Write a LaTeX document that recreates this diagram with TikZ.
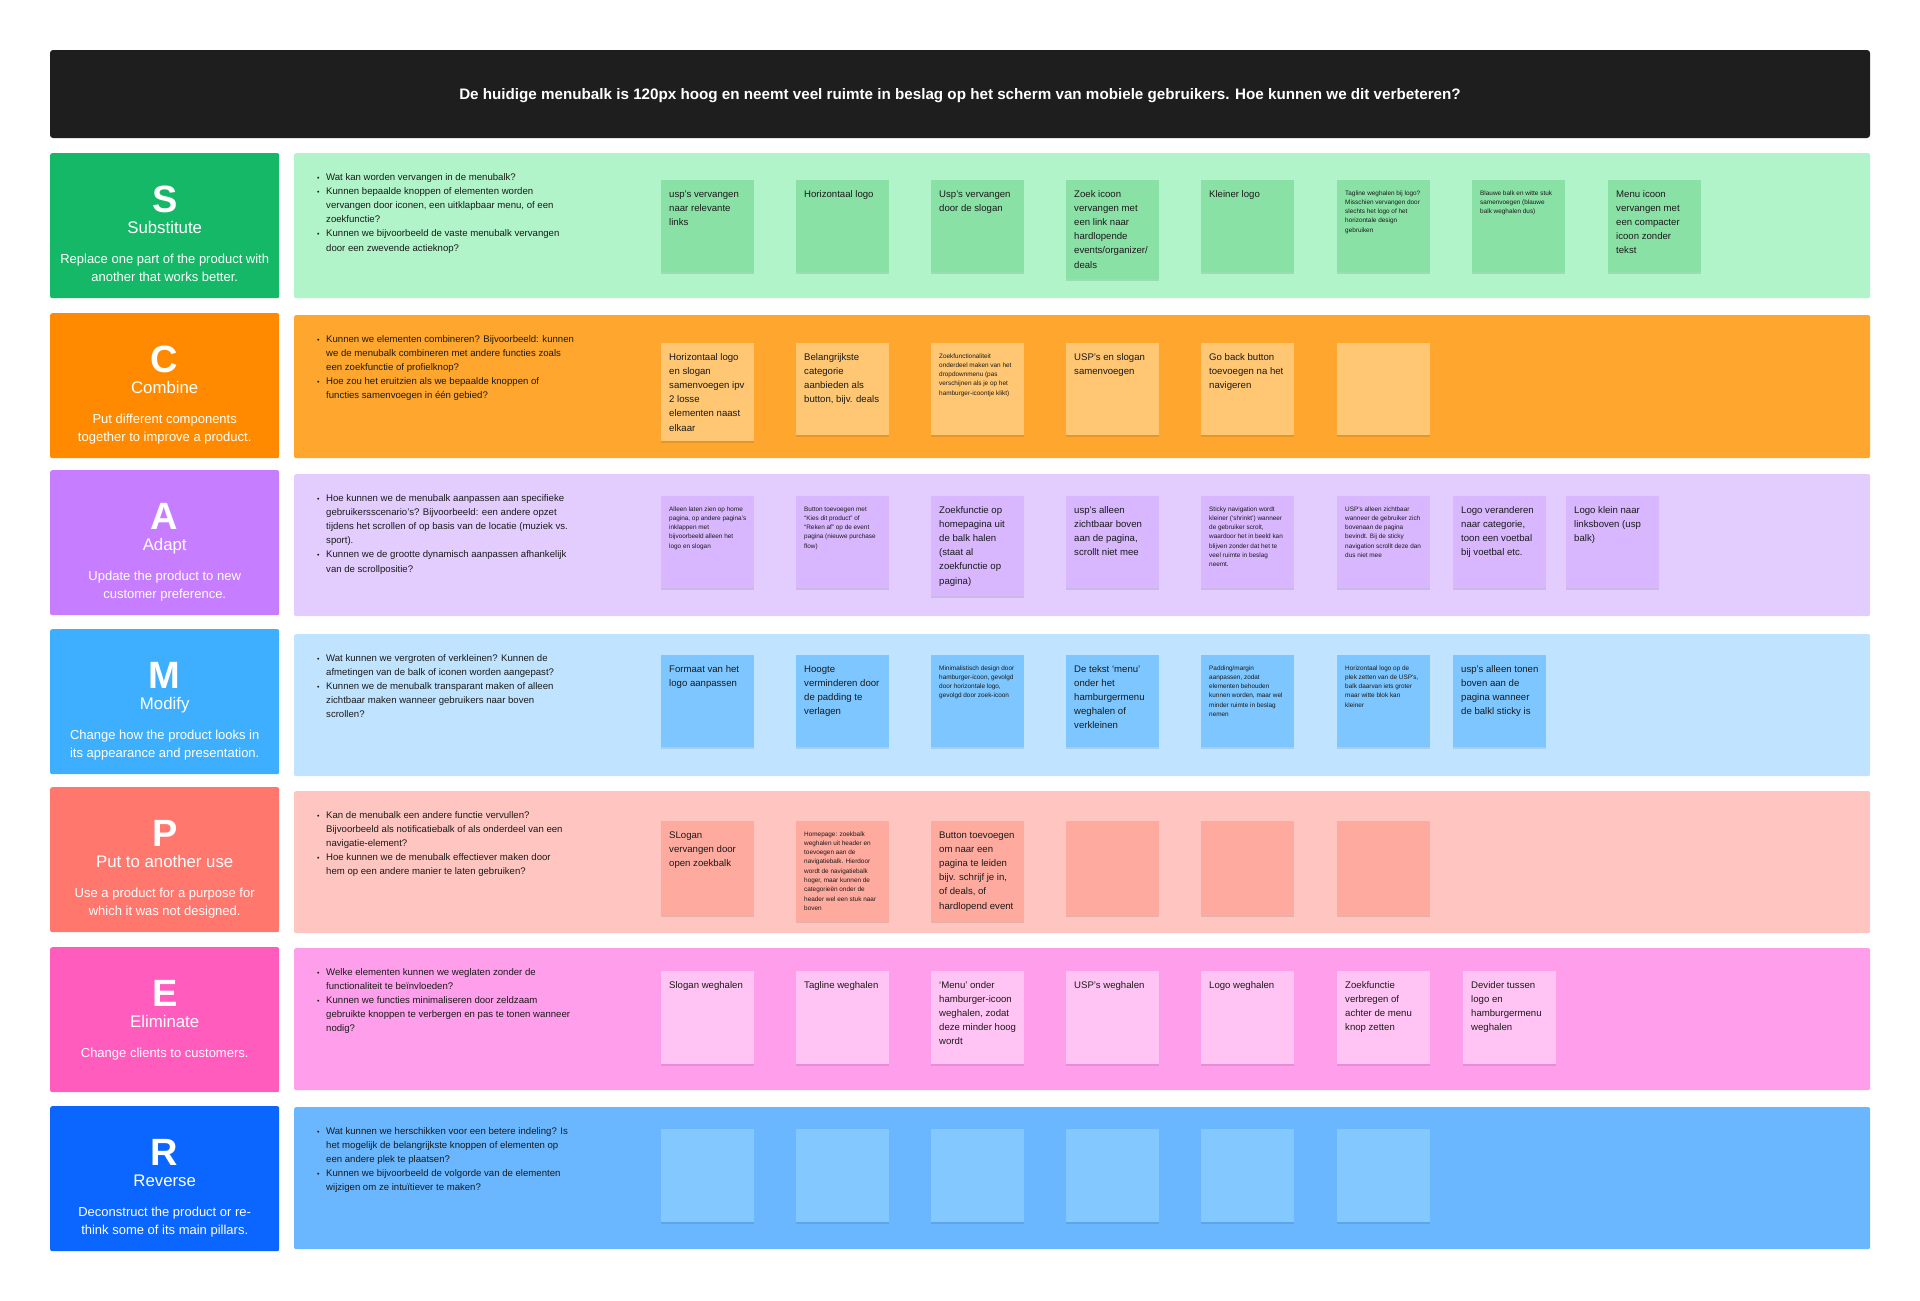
\documentclass[tikz,border=0pt]{standalone}
\usepackage{fontspec}
\setmainfont{Liberation Sans}
\usetikzlibrary{shadows}
\definecolor{hdr}{HTML}{1E1E1E}
\definecolor{ink}{HTML}{1A1A1A}
\definecolor{slab}{HTML}{14B866}\definecolor{span}{HTML}{B1F4CA}\definecolor{snote}{HTML}{8AE1A6}
\definecolor{clab}{HTML}{FF8A00}\definecolor{cpan}{HTML}{FFA62E}\definecolor{cnote}{HTML}{FFC674}
\definecolor{alab}{HTML}{C77DFF}\definecolor{apan}{HTML}{E3CDFF}\definecolor{anote}{HTML}{D8B7FF}
\definecolor{mlab}{HTML}{3EAFFF}\definecolor{mpan}{HTML}{C0E4FF}\definecolor{mnote}{HTML}{7DC6FF}
\definecolor{plab}{HTML}{FF776D}\definecolor{ppan}{HTML}{FFC6C1}\definecolor{pnote}{HTML}{FFAA9E}
\definecolor{elab}{HTML}{FF5CBD}\definecolor{epan}{HTML}{FF9FEC}\definecolor{enote}{HTML}{FFC4F4}
\definecolor{rlab}{HTML}{0A66FF}\definecolor{rpan}{HTML}{6AB7FF}\definecolor{rnote}{HTML}{83C9FF}
\newcommand\bignote{\fontsize{9.6}{14.2}\selectfont}
\newcommand\smallnote{\fontsize{6.4}{9.3}\selectfont}
\newcommand\bq[1]{\hangindent=9pt\hangafter=1\noindent\makebox[9pt][l]{\fontsize{7}{7}\selectfont\textbullet}{\def\\{\newline}#1}\par}
% sticky note: name, x, y, height, colour, text (big font)
\newcommand\stk[6]{%
  \node[stickbox, fill=#5, minimum height=#4pt, anchor=north west] (#1) at (#2,#3) {};
  \node[notetext, anchor=base west] (#1t) at ([xshift=8pt,yshift=-17pt]#1.north west) {\parbox[t]{120pt}{\raggedright\bignote #6}};}
% sticky note with small text
\newcommand\stks[6]{%
  \node[stickbox, fill=#5, minimum height=#4pt, anchor=north west] (#1) at (#2,#3) {};
  \node[notetext, anchor=base west] (#1t) at ([xshift=8pt,yshift=-15pt]#1.north west) {\parbox[t]{120pt}{\raggedright\smallnote #6}};}
% label: name, top, colour, letter, title, description
\newcommand\lab[6]{%
  \node[labbox, fill=#3, anchor=north west] (#1) at (50,#2) {};
  \node[labletter, anchor=base] (#1l) at ([yshift=-59pt]#1.north) {#4};
  \node[labtitle, anchor=base] (#1n) at ([yshift=-80pt]#1.north) {#5};
  \node[labdesc, anchor=base] (#1d) at ([yshift=-110pt]#1.north) {\parbox[t]{225pt}{\centering #6}};}
% panel: name, top, colour, height
\newcommand\pan[4]{\node[panelbox, fill=#3, minimum height=#4pt, anchor=north west] (#1) at (294,#2) {};}
% questions: name, baseline y, text
\newcommand\qs[3]{\node[qtext, anchor=base west] (#1) at (317,#2) {\parbox[t]{330pt}{\raggedright\fontsize{9.6}{14.2}\selectfont #3}};}
\begin{document}
\begin{tikzpicture}[x=1pt,y=-1pt,
  stickbox/.style={draw=none, minimum width=93pt, inner sep=0pt,
     drop shadow={shadow xshift=0pt, shadow yshift=-1.5pt, opacity=0.10, fill=black}},
  notetext/.style={inner sep=0pt, text=ink},
  labbox/.style={minimum width=229pt, minimum height=145pt, inner sep=0pt, rounded corners=2pt},
  labletter/.style={inner sep=0pt, text=white, font=\fontsize{38}{38}\selectfont\bfseries},
  labtitle/.style={inner sep=0pt, text=white, font=\fontsize{16.8}{18}\selectfont},
  labdesc/.style={inner sep=0pt, text=white, font=\fontsize{13}{18.4}\selectfont},
  panelbox/.style={minimum width=1576pt, inner sep=0pt, rounded corners=1.5pt},
  qtext/.style={inner sep=0pt, text=ink},
  header/.style={fill=hdr, rounded corners=3pt, minimum width=1820pt, minimum height=88pt, inner sep=0pt},
  headtext/.style={inner sep=0pt, text=white, font=\fontsize{15.2}{17}\selectfont\bfseries}]
\useasboundingbox (0,0) rectangle (1920,1301);
\fill[white] (0,0) rectangle (1920,1301);

\node[header] (hbox) at (960,94) {};
\node[headtext, anchor=base] (title) at ([yshift=-5.5pt]hbox.center) {De huidige menubalk is 120px hoog en neemt veel ruimte in beslag op het scherm van mobiele gebruikers. Hoe kunnen we dit verbeteren?};

% ---------- S ----------
\lab{sl}{153}{slab}{S}{Substitute}{Replace one part of the product with\\another that works better.}
\pan{sp}{153}{span}{145}
\qs{sq}{180}{\bq{Wat kan worden vervangen in de menubalk?}
\bq{Kunnen bepaalde knoppen of elementen worden\\vervangen door iconen, een uitklapbaar menu, of een\\zoekfunctie?}
\bq{Kunnen we bijvoorbeeld de vaste menubalk vervangen\\door een zwevende actieknop?}}
\stk{s1}{661}{180}{92}{snote}{usp’s vervangen\\naar relevante\\links}
\stk{s2}{796}{180}{92}{snote}{Horizontaal logo}
\stk{s3}{931}{180}{92}{snote}{Usp’s vervangen\\door de slogan}
\stk{s4}{1066}{180}{99}{snote}{Zoek icoon\\vervangen met\\een link naar\\hardlopende\\events/organizer/\\deals}
\stk{s5}{1201}{180}{92}{snote}{Kleiner logo}
\stks{s6}{1337}{180}{92}{snote}{Tagline weghalen bij logo?\\Misschien vervangen door\\slechts het logo of het\\horizontale design\\gebruiken}
\stks{s7}{1472}{180}{92}{snote}{Blauwe balk en witte stuk\\samenvoegen (blauwe\\balk weghalen dus)}
\stk{s8}{1608}{180}{92}{snote}{Menu icoon\\vervangen met\\een compacter\\icoon zonder\\tekst}

% ---------- C ----------
\lab{cl}{313}{clab}{C}{Combine}{Put different components\\together to improve a product.}
\pan{cp}{315}{cpan}{143}
\qs{cq}{342}{\bq{Kunnen we elementen combineren? Bijvoorbeeld: kunnen\\we de menubalk combineren met andere functies zoals\\een zoekfunctie of profielknop?}
\bq{Hoe zou het eruitzien als we bepaalde knoppen of\\functies samenvoegen in één gebied?}}
\stk{c1}{661}{343}{98}{cnote}{Horizontaal logo\\en slogan\\samenvoegen ipv\\2 losse\\elementen naast\\elkaar}
\stk{c2}{796}{343}{92}{cnote}{Belangrijkste\\categorie\\aanbieden als\\button, bijv. deals}
\stks{c3}{931}{343}{92}{cnote}{Zoekfunctionaliteit\\onderdeel maken van het\\dropdownmenu (pas\\verschijnen als je op het\\hamburger-icoontje klikt)}
\stk{c4}{1066}{343}{92}{cnote}{USP’s en slogan\\samenvoegen}
\stk{c5}{1201}{343}{92}{cnote}{Go back button\\toevoegen na het\\navigeren}
\stk{c6}{1337}{343}{92}{cnote}{}

% ---------- A ----------
\lab{al}{470}{alab}{A}{Adapt}{Update the product to new\\customer preference.}
\pan{ap}{474}{apan}{142}
\qs{aq}{501}{\bq{Hoe kunnen we de menubalk aanpassen aan specifieke\\gebruikersscenario’s? Bijvoorbeeld: een andere opzet\\tijdens het scrollen of op basis van de locatie (muziek vs.\\sport).}
\bq{Kunnen we de grootte dynamisch aanpassen afhankelijk\\van de scrollpositie?}}
\stks{a1}{661}{496}{92}{anote}{Alleen laten zien op home\\pagina, op andere pagina’s\\inklappen met\\bijvoorbeeld alleen het\\logo en slogan}
\stks{a2}{796}{496}{92}{anote}{Button toevoegen met\\“Kies dit product” of\\“Reken af” op de event\\pagina (nieuwe purchase\\flow)}
\stk{a3}{931}{496}{100}{anote}{Zoekfunctie op\\homepagina uit\\de balk halen\\(staat al\\zoekfunctie op\\pagina)}
\stk{a4}{1066}{496}{92}{anote}{usp’s alleen\\zichtbaar boven\\aan de pagina,\\scrollt niet mee}
\stks{a5}{1201}{496}{92}{anote}{Sticky navigation wordt\\kleiner (‘shrinkt’) wanneer\\de gebruiker scrolt,\\waardoor het in beeld kan\\blijven zonder dat het te\\veel ruimte in beslag\\neemt.}
\stks{a6}{1337}{496}{92}{anote}{USP’s alleen zichtbaar\\wanneer de gebruiker zich\\bovenaan de pagina\\bevindt. Bij de sticky\\navigation scrollt deze dan\\dus niet mee}
\stk{a7}{1453}{496}{92}{anote}{Logo veranderen\\naar categorie,\\toon een voetbal\\bij voetbal etc.}
\stk{a8}{1566}{496}{92}{anote}{Logo klein naar\\linksboven (usp\\balk)}

% ---------- M ----------
\lab{ml}{629}{mlab}{M}{Modify}{Change how the product looks in\\its appearance and presentation.}
\pan{mp}{634}{mpan}{142}
\qs{mq}{661}{\bq{Wat kunnen we vergroten of verkleinen? Kunnen de\\afmetingen van de balk of iconen worden aangepast?}
\bq{Kunnen we de menubalk transparant maken of alleen\\zichtbaar maken wanneer gebruikers naar boven\\scrollen?}}
\stk{m1}{661}{655}{92}{mnote}{Formaat van het\\logo aanpassen}
\stk{m2}{796}{655}{92}{mnote}{Hoogte\\verminderen door\\de padding te\\verlagen}
\stks{m3}{931}{655}{92}{mnote}{Minimalistisch design door\\hamburger-icoon, gevolgd\\door horizontale logo,\\gevolgd door zoek-icoon}
\stk{m4}{1066}{655}{92}{mnote}{De tekst ‘menu’\\onder het\\hamburgermenu\\weghalen of\\verkleinen}
\stks{m5}{1201}{655}{92}{mnote}{Padding/margin\\aanpassen, zodat\\elementen behouden\\kunnen worden, maar wel\\minder ruimte in beslag\\nemen}
\stks{m6}{1337}{655}{92}{mnote}{Horizontaal logo op de\\plek zetten van de USP’s,\\balk daarvan iets groter\\maar witte blok kan\\kleiner}
\stk{m7}{1453}{655}{92}{mnote}{usp’s alleen tonen\\boven aan de\\pagina wanneer\\de balkl sticky is}

% ---------- P ----------
\lab{pl}{787}{plab}{P}{Put to another use}{Use a product for a purpose for\\which it was not designed.}
\pan{pp}{791}{ppan}{142}
\qs{pq}{818}{\bq{Kan de menubalk een andere functie vervullen?\\Bijvoorbeeld als notificatiebalk of als onderdeel van een\\navigatie-element?}
\bq{Hoe kunnen we de menubalk effectiever maken door\\hem op een andere manier te laten gebruiken?}}
\stk{p1}{661}{821}{94}{pnote}{SLogan\\vervangen door\\open zoekbalk}
\stks{p2}{796}{821}{100}{pnote}{Homepage: zoekbalk\\weghalen uit header en\\toevoegen aan de\\navigatiebalk. Hierdoor\\wordt de navigatiebalk\\hoger, maar kunnen de\\categorieën onder de\\header wel een stuk naar\\boven}
\stk{p3}{931}{821}{100}{pnote}{Button toevoegen\\om naar een\\pagina te leiden\\bijv. schrijf je in,\\of deals, of\\hardlopend event}
\stk{p4}{1066}{821}{94}{pnote}{}
\stk{p5}{1201}{821}{94}{pnote}{}
\stk{p6}{1337}{821}{94}{pnote}{}

% ---------- E ----------
\lab{el}{947}{elab}{E}{Eliminate}{Change clients to customers.}
\pan{ep}{948}{epan}{142}
\qs{eq}{975}{\bq{Welke elementen kunnen we weglaten zonder de\\functionaliteit te beïnvloeden?}
\bq{Kunnen we functies minimaliseren door zeldzaam\\gebruikte knoppen te verbergen en pas te tonen wanneer\\nodig?}}
\stk{e1}{661}{971}{93}{enote}{Slogan weghalen}
\stk{e2}{796}{971}{93}{enote}{Tagline weghalen}
\stk{e3}{931}{971}{93}{enote}{‘Menu’ onder\\hamburger-icoon\\weghalen, zodat\\deze minder hoog\\wordt}
\stk{e4}{1066}{971}{93}{enote}{USP’s weghalen}
\stk{e5}{1201}{971}{93}{enote}{Logo weghalen}
\stk{e6}{1337}{971}{93}{enote}{Zoekfunctie\\verbregen of\\achter de menu\\knop zetten}
\stk{e7}{1463}{971}{93}{enote}{Devider tussen\\logo en\\hamburgermenu\\weghalen}

% ---------- R ----------
\lab{rl}{1106}{rlab}{R}{Reverse}{Deconstruct the product or re-\\think some of its main pillars.}
\pan{rp}{1107}{rpan}{142}
\qs{rq}{1134}{\bq{Wat kunnen we herschikken voor een betere indeling? Is\\het mogelijk de belangrijkste knoppen of elementen op\\een andere plek te plaatsen?}
\bq{Kunnen we bijvoorbeeld de volgorde van de elementen\\wijzigen om ze intuïtiever te maken?}}
\stk{r1}{661}{1129}{93}{rnote}{}
\stk{r2}{796}{1129}{93}{rnote}{}
\stk{r3}{931}{1129}{93}{rnote}{}
\stk{r4}{1066}{1129}{93}{rnote}{}
\stk{r5}{1201}{1129}{93}{rnote}{}
\stk{r6}{1337}{1129}{93}{rnote}{}
\end{tikzpicture}
\end{document}
